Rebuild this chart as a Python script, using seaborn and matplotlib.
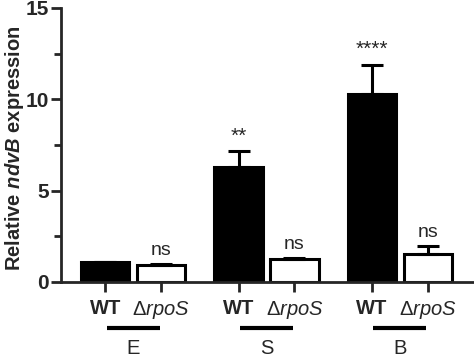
import numpy as np
import pandas as pd
import matplotlib
matplotlib.use("Agg")
import matplotlib.pyplot as plt
import matplotlib.transforms as mtransforms
from matplotlib.ticker import MultipleLocator
import seaborn as sns

# Data
groups = ["E", "S", "B"]
strains = ["WT", "rpoS"]
wt_mean = [1.08, 6.3, 10.3]
wt_err = [0.03, 0.87, 1.6]
rpos_mean = [0.92, 1.26, 1.55]
rpos_err = [0.05, 0.04, 0.42]
wt_sig = ["", "**", "****"]
rpos_sig = ["ns", "ns", "ns"]

df = pd.DataFrame({
    "group": groups * 2,
    "strain": ["WT"] * 3 + ["rpoS"] * 3,
    "value": wt_mean + rpos_mean,
})

sns.set_style("ticks")
plt.rcParams["font.family"] = ["Liberation Sans", "DejaVu Sans"]
plt.rcParams["mathtext.fontset"] = "custom"
plt.rcParams["mathtext.rm"] = "Liberation Sans"
plt.rcParams["mathtext.it"] = "Liberation Sans:italic"
plt.rcParams["mathtext.bf"] = "Liberation Sans:bold"
plt.rcParams["mathtext.bfit"] = "Liberation Sans:italic:bold"

fig = plt.figure(figsize=(4.74, 3.58), dpi=100)
ax = fig.add_axes([0.129, 0.2123, 0.869, 0.7654])

sns.barplot(data=df, x="group", y="value", hue="strain", order=groups,
            hue_order=strains, palette=["black", "white"], width=0.84,
            gap=0.14, errorbar=None, legend=False, ax=ax, saturation=1)

offset = 0.21
for p in ax.patches[:6]:
    p.set_edgecolor("black")
    p.set_linewidth(2.2)

xs_wt = np.arange(3) - offset
xs_r = np.arange(3) + offset
ax.errorbar(xs_wt, wt_mean, yerr=[np.zeros(3), wt_err], fmt="none",
            ecolor="black", elinewidth=2.2, capsize=8, capthick=2.2)
ax.errorbar(xs_r, rpos_mean, yerr=[np.zeros(3), rpos_err], fmt="none",
            ecolor="black", elinewidth=2.2, capsize=8, capthick=2.2)

for x, m, e, s in zip(xs_wt, wt_mean, wt_err, wt_sig):
    if s:
        ax.text(x, m + e + 0.3, s, ha="center", va="bottom", fontsize=15)
for x, m, e, s in zip(xs_r, rpos_mean, rpos_err, rpos_sig):
    ax.text(x, m + e + 0.3, s, ha="center", va="bottom", fontsize=14)

ax.set_ylim(0, 15)
ax.set_xlim(-0.541, 2.55)
ax.yaxis.set_major_locator(MultipleLocator(5))
ax.yaxis.set_minor_locator(MultipleLocator(2.5))
ax.tick_params(axis="y", which="major", length=7, width=2, labelsize=15, pad=2)
ax.tick_params(axis="y", which="minor", length=5, width=2)
for lab in ax.get_yticklabels():
    lab.set_fontweight("bold")

ticks = np.sort(np.concatenate([xs_wt, xs_r]))
ax.set_xticks(ticks)
ax.set_xticklabels([r"$\mathbf{WT}$", r"$\Delta$$\it{rpoS}$"] * 3, fontsize=14.5)
ax.tick_params(axis="x", length=7, width=2, pad=5)

for side in ["top", "right"]:
    ax.spines[side].set_visible(False)
ax.spines["left"].set_linewidth(2)
ax.spines["bottom"].set_linewidth(2)

ax.set_xlabel("")
ax.set_ylabel(r"Relative $\mathbfit{ndvB}$ expression", fontsize=14.5,
              fontweight="bold")
ax.yaxis.set_label_coords(-0.085, 0.49)

trans = mtransforms.blended_transform_factory(ax.transData, ax.transAxes)
for i, g in enumerate(groups):
    ax.plot([i - 0.2, i + 0.2], [-0.168, -0.168], color="black", lw=3,
            transform=trans, clip_on=False, solid_capstyle="butt")
    ax.text(i, -0.262, g, ha="center", va="baseline", fontsize=14.5,
            transform=trans)

fig.savefig("out.png", dpi=100)
